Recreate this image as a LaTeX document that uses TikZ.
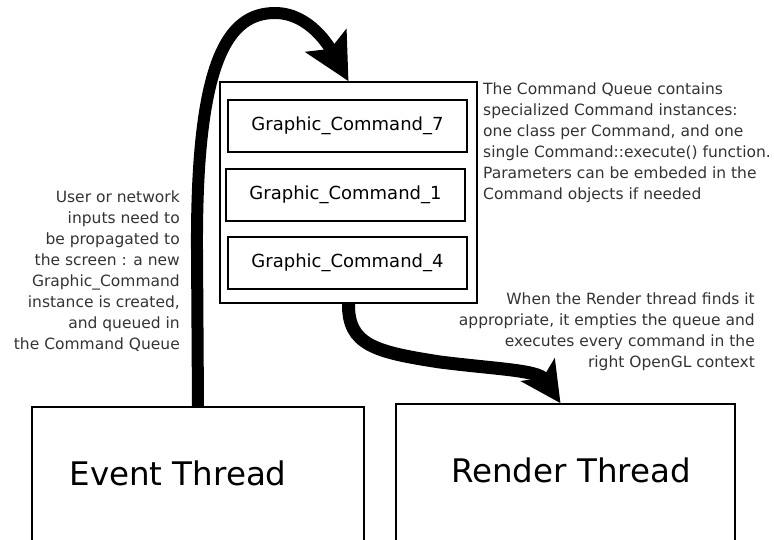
\documentclass[tikz,border=0pt]{standalone}
\usepackage{fontspec}
\setmainfont{DejaVu Sans}
\usetikzlibrary{arrows.meta}
\tikzset{
  box/.style={draw=black, line width=1.6pt, inner sep=0pt},
  cmdbox/.style={box, minimum width=239pt, minimum height=52pt, font=\fontsize{18}{20}\selectfont},
  note/.style={inner sep=0pt, font=\fontsize{15.5}{21}\selectfont, text=black!80},
  big/.style={inner sep=0pt, font=\fontsize{32.5}{36}\selectfont},
  fat/.style={line width=12pt, -{Stealth[length=46pt,width=46pt,inset=9pt]}},
}
\begin{document}
\begin{tikzpicture}[x=1pt,y=-1pt]
\useasboundingbox (0,0) rectangle (774,539);
\clip (0,0) rectangle (774,539);
% queue
\node[box, minimum width=257pt, minimum height=221pt] (q) at (348.5,192.5) {};
\node[cmdbox] (c7) at (347.5,126) {Graphic\_Command\_7};
\node[cmdbox] (c1) at (345.5,195) {Graphic\_Command\_1};
\node[cmdbox] (c4) at (347.5,263) {Graphic\_Command\_4};
% thread boxes
\node[box, minimum width=332pt, minimum height=150pt] (ev) at (198,482) {};
\node[box, minimum width=339pt, minimum height=150pt] (rt) at (565.5,479) {};
\node[big] (evt) at (178,473) {Event Thread};
\node[big] (rtt) at (571,470) {Render Thread};
% notes
\node[note, anchor=north west, align=left] (n1) at (483,83) {The Command Queue contains\\specialized Command instances:\\one class per Command, and one\\single Command::execute() function.\\Parameters can be embeded in the\\Command objects if needed};
\node[note, anchor=north east, align=right] (n2) at (180,191) {User or network\\inputs need to\\be propagated to\\the screen : a new\\Graphic\_Command\\instance is created,\\and queued in\\the Command Queue};
\node[note, anchor=north east, align=right] (n3) at (755,293) {When the Render thread finds it\\appropriate, it empties the queue and\\executes every command in the\\right OpenGL context};
% arrows
\draw[fat] (ev.north) -- (197,250) .. controls (196,60) and (228,13) .. (275,13) .. controls (310,13) and (330,48) .. (q.north);
\draw[fat, line width=13pt, -{Stealth[length=40pt,width=40pt,inset=9pt]}] (q.south) .. controls (348,345) and (375,352) .. (440,362) .. controls (495,369) and (538,370) .. ([xshift=-5pt]rt.north);
\end{tikzpicture}
\end{document}
